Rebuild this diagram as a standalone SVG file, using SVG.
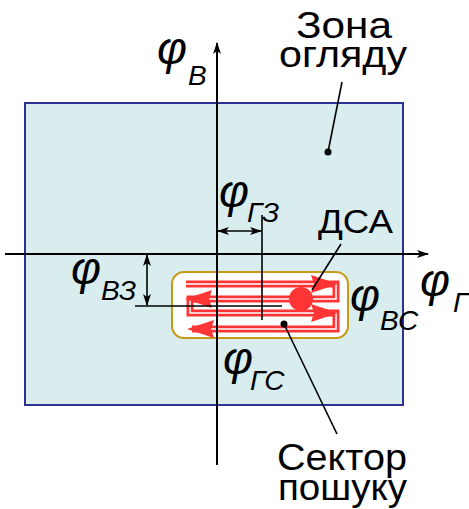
<svg xmlns="http://www.w3.org/2000/svg" width="469" height="509" viewBox="0 0 469 509">
<defs>
<style>
.t{font-family:"Liberation Sans",Arial,sans-serif;fill:#000}
.big{font-size:37px}
.phi{font-size:46px;font-style:italic}
.sub{font-size:28px;font-style:italic}
.ln{stroke:#000;fill:none}
</style>
<marker id="ah" viewBox="0 0 12 10" refX="11" refY="5" markerWidth="12" markerHeight="10" markerUnits="userSpaceOnUse" orient="auto-start-reverse">
<path d="M0,1 L12,5 L0,9 L3,5 Z" fill="#000"/>
</marker>
</defs>
<rect width="469" height="509" fill="#fff"/>
<g id="zone">
<rect x="25" y="103" width="378" height="302" fill="#d9edef" stroke="#2e3192" stroke-width="2"/>
</g>
<g id="sector">
<rect x="172" y="272" width="176" height="66" rx="12" fill="#fff" stroke="#c49a18" stroke-width="2"/>
<path d="M186,284 H336 V299 H190 V313 H336 V329 H192" fill="none" stroke="#ff3535" stroke-width="7" stroke-linejoin="miter"/>
<path d="M186,284 H336 V299 H190 V313 H336 V329 H192" fill="none" stroke="#fff" stroke-width="1.5" stroke-linejoin="miter"/>
<path d="M338,284 L311,275 L314,284 L311,293 Z" fill="#ff3535"/>
<path d="M338,313 L311,304 L314,313 L311,322 Z" fill="#ff3535"/>
<path d="M185,299 L212,290 L209,299 L212,308 Z" fill="#ff3535"/>
<path d="M187,329 L214,320 L211,329 L214,338 Z" fill="#ff3535"/>
</g>
<g id="dsa">
<circle cx="301" cy="299" r="12" fill="#ff3535"/>
</g>
<g id="connectors">
<line class="ln" x1="217" y1="465" x2="217" y2="43" stroke-width="2" marker-end="url(#ah)"/>
<line class="ln" x1="5" y1="254" x2="428" y2="254" stroke-width="2" marker-end="url(#ah)"/>
<line class="ln" x1="262" y1="215" x2="262" y2="320" stroke-width="1.6"/>
<line class="ln" x1="218" y1="231" x2="261" y2="231" stroke-width="1.6" marker-start="url(#ah)" marker-end="url(#ah)"/>
<line class="ln" x1="135" y1="306" x2="282" y2="306" stroke-width="1.6"/>
<line class="ln" x1="147" y1="255" x2="147" y2="305" stroke-width="1.6" marker-start="url(#ah)" marker-end="url(#ah)"/>
<line class="ln" x1="342" y1="82" x2="328" y2="152" stroke-width="1.6"/>
<circle cx="328" cy="152" r="3.5" fill="#000"/>
<line class="ln" x1="341" y1="244" x2="312" y2="290" stroke-width="1.6"/>
<line class="ln" x1="284" y1="324" x2="337" y2="434" stroke-width="1.6"/>
<circle cx="284" cy="324" r="3.5" fill="#000"/>
</g>
<g id="labels">
<text class="t big" x="296" y="38" textLength="96" lengthAdjust="spacingAndGlyphs">Зона</text>
<text class="t big" x="279" y="67" textLength="128" lengthAdjust="spacingAndGlyphs">огляду</text>
<text class="t big" x="277" y="470" textLength="130" lengthAdjust="spacingAndGlyphs">Сектор</text>
<text class="t big" x="278" y="500" textLength="129" lengthAdjust="spacingAndGlyphs">пошуку</text>
<text class="t" style="font-size:33px" x="318" y="233" textLength="75" lengthAdjust="spacingAndGlyphs">ДСА</text>
<text class="t phi" x="157" y="64">φ</text><text class="t sub" x="188" y="85">В</text>
<text class="t phi" x="219" y="207">φ</text><text class="t sub" x="247" y="222">ГЗ</text>
<text class="t phi" x="71" y="284">φ</text><text class="t sub" x="101" y="300">ВЗ</text>
<text class="t phi" x="350" y="311">φ</text><text class="t sub" x="380" y="330">ВС</text>
<text class="t phi" x="420" y="296">φ</text><text class="t sub" x="453" y="312">Г</text>
<text class="t phi" x="223" y="374">φ</text><text class="t sub" x="250" y="390">ГС</text>
</g>
</svg>
